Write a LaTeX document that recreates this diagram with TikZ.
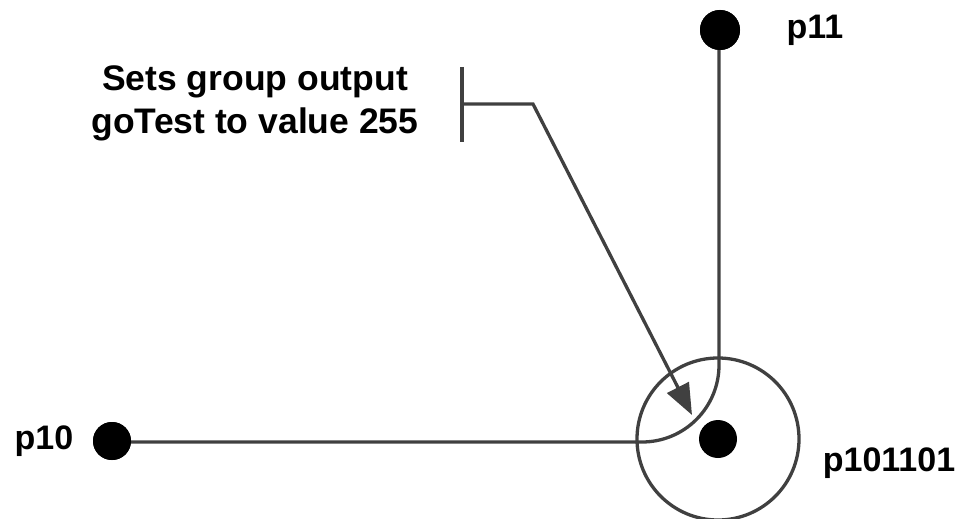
\documentclass[tikz,border=0pt]{standalone}
\usepackage{fontspec}
\setmainfont{Liberation Sans}
\usetikzlibrary{arrows.meta}
\definecolor{linegray}{HTML}{404040}
\tikzset{
  dotnode/.style={circle,fill=black,inner sep=0pt,minimum size=#1},
  lbl/.style={font=\fontsize{34}{42}\selectfont\bfseries,inner sep=0pt},
  notefont/.style={font=\fontsize{35.5}{43}\selectfont\bfseries,inner sep=0pt},
  wire/.style={draw=linegray,line width=3.3pt},
  pointer/.style={draw=linegray,line width=3.3pt,-{Triangle[length=31pt,width=24pt]}}
}
\begin{document}
\begin{tikzpicture}[x=1pt,y=-1pt]
\useasboundingbox (0,0) rectangle (967,519);
% connectors first
\node[dotnode=40pt] (p11) at (720,30) {};
\node[dotnode=38pt] (p10) at (112,441) {};
\node[circle,wire,minimum size=162pt,inner sep=0pt] (ring) at (718,439) {};
\node[dotnode=38pt] (c) at (718,439) {};
\draw[wire,rounded corners=77pt] (719,30) |- (112,442);
\node[dotnode=40pt] at (p11) {};
\node[dotnode=38pt] at (p10) {};
% labels
\node[lbl] (l11) at (815,30) {p11};
\node[lbl] (l10) at (44,441) {p10};
\node[lbl] (lc) at (889,463) {p101101};
\node[notefont,align=center] (note) at (255,103) {Sets group output\\goTest to value 255};
% bracket and pointer
\coordinate (bt) at (462,67);
\coordinate (bb) at (462,142);
\coordinate (bm) at (462,104);
\coordinate (bk) at (533,104);
\coordinate (tip) at (692,415);
\draw[wire] (bt) -- (bb);
\draw[pointer] (bm) -- (bk) -- (tip);
\end{tikzpicture}
\end{document}
